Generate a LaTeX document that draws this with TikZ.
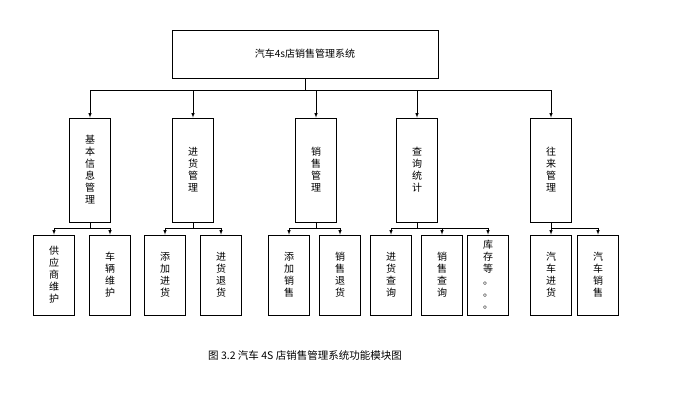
\documentclass[tikz,border=0pt]{standalone}
\usepackage{fontspec}
\setmainfont{Liberation Serif}
\newfontfamily\cjk{Noto Sans CJK SC}
\begin{document}
\begin{tikzpicture}[x=1pt,y=-1pt,
  bx/.style={draw,line width=0.8pt,minimum width=41pt,minimum height=104pt,inner sep=0pt,font=\cjk\fontsize{10}{12}\selectfont,align=center},
  lf/.style={bx,minimum height=80pt},
  ar/.style={-latex,line width=0.6pt}]
\useasboundingbox[fill=white] (0,0) rectangle (674,418);
\node[draw,line width=0.8pt,minimum width=266pt,minimum height=48pt,font=\cjk\fontsize{10}{12}\selectfont] (top) at (305,54) {汽车4s店销售管理系统};
\node[bx] (m1) at (90,170) {基\\本\\信\\息\\管\\理};
\node[bx] (m2) at (193,170) {进\\货\\管\\理};
\node[bx] (m3) at (316,170) {销\\售\\管\\理};
\node[bx] (m4) at (417,170) {查\\询\\统\\计};
\node[bx] (m5) at (551,170) {往\\来\\管\\理};
\foreach \n/\x/\t in {c1/54/供\\应\\商\\维\\护, c2/110/车\\辆\\维\\护, c3/165/添\\加\\进\\货, c4/221/进\\货\\退\\货, c5/289/添\\加\\销\\售, c6/340/销\\售\\退\\货, c7/391/进\\货\\查\\询, c8/442/销\\售\\查\\询, c9/488/库\\存\\等\\。\\。\\。, c10/551/汽\\车\\进\\货, c11/598/汽\\车\\销\\售}
  \node[lf] (\n) at (\x,275) {\t};
\coordinate (bus) at (305,90);
\draw[line width=0.6pt] (top.south) -- (bus);
\draw[line width=0.6pt] (m1.north |- bus) -- (m5.north |- bus);
\foreach \m in {m1,m2,m3,m4,m5} \draw[ar] (\m.north |- bus) -- (\m.north);
\foreach \m/\a/\b in {m1/c1/c2, m2/c3/c4, m3/c5/c6, m5/c10/c11}{
  \draw[line width=0.6pt] (\m.south) -- ++(0,6) coordinate (j);
  \draw[line width=0.6pt] (\a.north |- j) -- (\b.north |- j);
  \draw[ar] (\a.north |- j) -- (\a.north);
  \draw[ar] (\b.north |- j) -- (\b.north);
}
\draw[line width=0.6pt] (m4.south) -- ++(0,6) coordinate (j);
\draw[line width=0.6pt] (c7.north |- j) -- (c9.north |- j);
\foreach \c in {c7,c8,c9} \draw[ar] (\c.north |- j) -- (\c.north);
\node[font=\cjk\fontsize{10.5}{12}\selectfont] (cap) at (305,355) {图 3.2 汽车 4S 店销售管理系统功能模块图};
\end{tikzpicture}
\end{document}
